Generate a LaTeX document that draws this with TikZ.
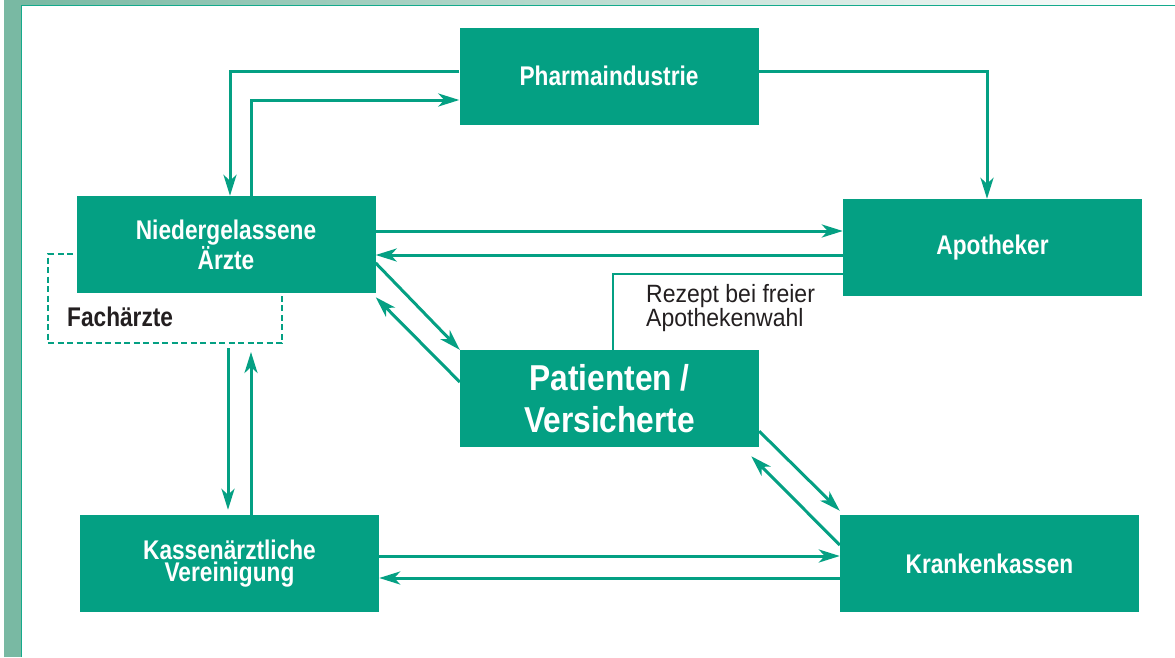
\documentclass[tikz,border=0pt]{standalone}
\usepackage{fontspec}
\setmainfont{Liberation Sans}
\newfontfamily\condfont[FakeStretch=0.84]{Liberation Sans}
\newfontfamily\patfont[FakeStretch=0.88]{Liberation Sans}
\newfontfamily\notefont[FakeStretch=0.92]{Liberation Sans}
\usetikzlibrary{arrows.meta,positioning,calc}
\definecolor{kvgreen}{RGB}{4,160,131}
\definecolor{framegreen}{RGB}{121,185,163}
\definecolor{frameline}{RGB}{20,170,140}
\definecolor{textdark}{RGB}{35,31,32}

\begin{document}
\begin{tikzpicture}[x=1pt,y=-1pt,>={Stealth[length=21pt,width=13pt,inset=6pt]}]
  \tikzstyle{box}=[fill=kvgreen,text=white,minimum width=299pt,minimum height=97pt,inner sep=0pt,align=center,font=\condfont\bfseries\fontsize{27}{22.5}\selectfont]
  \tikzstyle{flow}=[->,draw=kvgreen,line width=3pt]
  % frame
  \useasboundingbox (0,0) rectangle (1175,657);
  \fill[white] (0,0) rectangle (1175,657);
  \fill[framegreen] (4,0) rectangle (21,657);
  \shade[left color=framegreen,right color=white] (21,0) rectangle (1175,5);
  \draw[frameline,line width=1.5pt] (21.5,657) -- (21.5,5.5) -- (1175,5.5);
  % Fachaerzte
  \node[draw=kvgreen,dash pattern=on 6pt off 3.5pt,line width=2pt,minimum width=234pt,minimum height=89pt] (fach) at (165,298.5) {};
  \node[anchor=base west,inner sep=0pt,text=textdark,font=\condfont\bfseries\fontsize{27}{30}\selectfont] (fachtext) at (67,326) {Fachärzte};
  % boxes
  \node[box] (pharma) at (609,76) {Pharmaindustrie};
  \node[box] (aerzte) at (226,244.5) {Niedergelassene\\Ärzte};
  \node[box] (apotheker) at (992.5,247.5) {Apotheker};
  \node[box,font=\patfont\bfseries\fontsize{36}{42}\selectfont] (patienten) at (609.5,398.5) {Patienten /\\Versicherte};
  \node[box] (kv) at (229.5,563.5) {Kassenärztliche\\Vereinigung};
  \node[box] (kassen) at (989.5,563.5) {Krankenkassen};
  % Pharma <-> Aerzte, Apotheker
  \draw[flow] ([yshift=5pt]pharma.west) -| ([xshift=4pt]aerzte.north);
  \draw[flow] ([xshift=25pt]aerzte.north) |- ([yshift=-24pt]pharma.west);
  \draw[flow] ([yshift=5pt]pharma.east) -| ([xshift=-5.5pt]apotheker.north);
  % Aerzte <-> Apotheker
  \coordinate (aa1) at ([yshift=13.5pt]aerzte.east);
  \draw[flow] (aa1) -- (apotheker.west |- aa1);
  \coordinate (aa2) at ([yshift=-7.5pt]apotheker.west);
  \draw[flow] (aa2) -- (aerzte.east |- aa2);
  % Rezept
  \coordinate (rz) at ([yshift=-26.5pt]apotheker.west);
  \draw[kvgreen,line width=2.5pt] (rz) -| ([xshift=3.5pt]patienten.north);
  \node[anchor=north west,align=left,inner sep=0pt,text=textdark,font=\notefont\fontsize{25}{23}\selectfont] (rezept) at (646,284) {Rezept bei freier\\Apothekenwahl};
  % Aerzte <-> Patienten
  \draw[flow] ([yshift=-18.5pt]aerzte.east) -- (patienten.north west);
  \draw[flow] ([yshift=16.5pt]patienten.west) -- ([yshift=-4pt]aerzte.south east);
  % Patienten <-> Krankenkassen
  \draw[flow] ([yshift=16pt]patienten.south east) -- ([yshift=4pt]kassen.north west);
  \draw[flow] ([yshift=18.5pt]kassen.west) -- ([xshift=-8pt,yshift=-9pt]patienten.south east);
  % Aerzte <-> KV
  \draw[flow] ($(aerzte.south |- fach.south)+(2,4)$) -- ([xshift=-1.5pt,yshift=5pt]kv.north);
  \draw[flow] ($(kv.north)+(21.5,0)$) -- ($(kv.north |- fach.south)+(21.5,8)$);
  % KV <-> Krankenkassen
  \coordinate (kk1) at ([yshift=7.5pt]kv.east);
  \draw[flow] (kk1) -- (kassen.west |- kk1);
  \coordinate (kk2) at ([yshift=-14.5pt]kassen.west);
  \draw[flow] (kk2) -- (kv.east |- kk2);
\end{tikzpicture}
\end{document}
